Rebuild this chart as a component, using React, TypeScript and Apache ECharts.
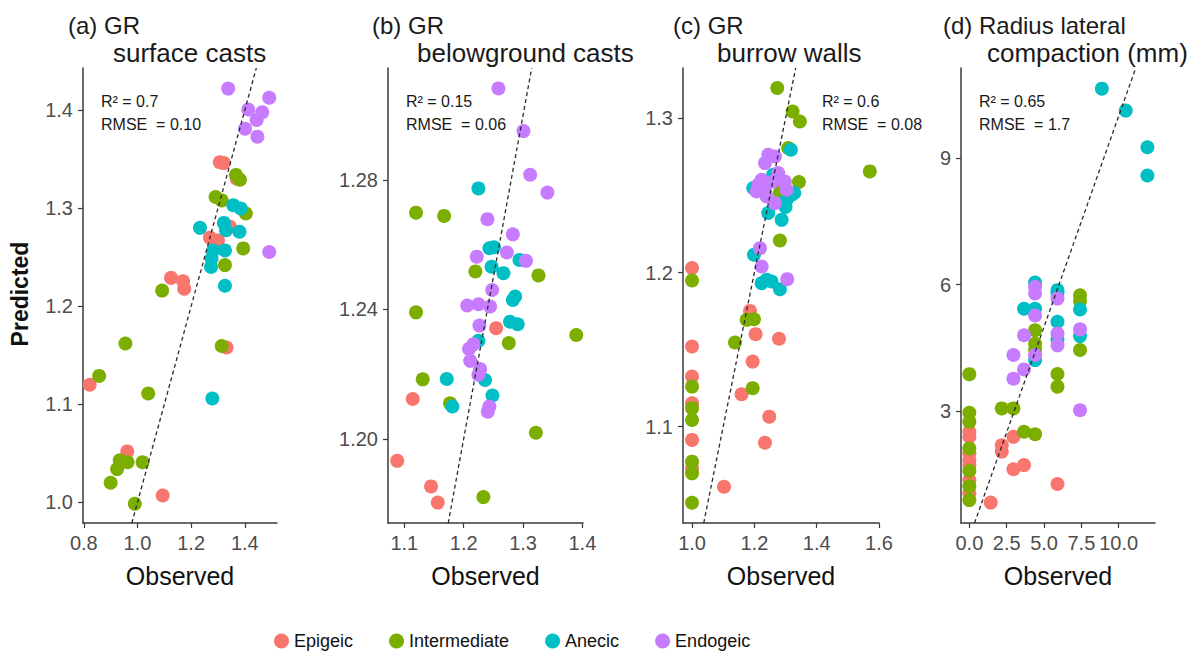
import React, { useEffect, useRef } from "react";
import * as echarts from "echarts";

const groups = ["Epigeic", "Intermediate", "Anecic", "Endogeic"];
const groupColors = ["#F8766D", "#7CAE00", "#00BFC4", "#C77CFF"];

// (a) GR surface casts  [observed, predicted]
const aEpigeic = [[1.307, 1.347], [1.322, 1.346], [1.37, 1.33], [1.27, 1.27], [1.3, 1.267], [1.345, 1.281], [1.125, 1.229], [1.17, 1.2255], [1.174, 1.218], [0.822, 1.12], [1.332, 1.158], [0.962, 1.052], [1.094, 1.007]];
const aIntermediate = [[1.367, 1.334], [1.382, 1.329], [1.291, 1.3115], [1.314, 1.308], [1.404, 1.2946], [1.394, 1.259], [1.326, 1.242], [1.092, 1.216], [0.955, 1.162], [0.857, 1.129], [1.04, 1.111], [1.314, 1.1595], [0.934, 1.043], [0.963, 1.041], [1.019, 1.041], [0.924, 1.034], [0.9, 1.02], [0.99, 0.9986]];
const aAnecic = [[1.233, 1.28], [1.357, 1.303], [1.385, 1.2997], [1.322, 1.285], [1.33, 1.2776], [1.38, 1.276], [1.282, 1.257], [1.276, 1.2487], [1.326, 1.257], [1.274, 1.24], [1.326, 1.221], [1.279, 1.106]];
const aEndogeic = [[1.338, 1.422], [1.491, 1.4126], [1.413, 1.4007], [1.465, 1.398], [1.444, 1.39], [1.401, 1.381], [1.447, 1.373], [1.491, 1.2554]];

// (b) GR belowground casts
const bEpigeic = [[1.2546, 1.2342], [1.1142, 1.2123], [1.088, 1.1932], [1.145, 1.1853], [1.1563, 1.1803]];
const bIntermediate = [[1.1197, 1.2699], [1.167, 1.2689], [1.2197, 1.2517], [1.326, 1.2505], [1.1197, 1.2391], [1.3896, 1.2321], [1.276, 1.2296], [1.131, 1.2184], [1.177, 1.211], [1.3216, 1.2019], [1.2332, 1.182]];
const bAnecic = [[1.2248, 1.2774], [1.2433, 1.2589], [1.251, 1.2592], [1.294, 1.2553], [1.247, 1.2532], [1.267, 1.2512], [1.2867, 1.244], [1.2828, 1.2429], [1.278, 1.2362], [1.291, 1.2354], [1.2248, 1.2303], [1.1715, 1.2185], [1.236, 1.2182], [1.2484, 1.2134], [1.181, 1.21]];
const bEndogeic = [[1.2585, 1.3083], [1.3007, 1.2951], [1.312, 1.2816], [1.341, 1.2761], [1.24, 1.2679], [1.2828, 1.2632], [1.2727, 1.2576], [1.222, 1.2563], [1.305, 1.255], [1.248, 1.246], [1.206, 1.2412], [1.225, 1.2416], [1.2445, 1.2409], [1.2265, 1.235], [1.2164, 1.2292], [1.209, 1.2278], [1.211, 1.2241], [1.2277, 1.2216], [1.2248, 1.2198], [1.2433, 1.21], [1.2406, 1.2084]];

// (c) GR burrow walls
const cEpigeic = [[1.0, 1.2029], [1.186, 1.1751], [1.204, 1.16], [1.279, 1.157], [1.1945, 1.1422], [1.0, 1.152], [1.0, 1.1325], [1.159, 1.121], [1.0, 1.1152], [1.2478, 1.1065], [1.0, 1.0914], [1.234, 1.0896], [1.0, 1.073], [1.1026, 1.061]];
const cIntermediate = [[1.2734, 1.3197], [1.3227, 1.3045], [1.346, 1.298], [1.3087, 1.2808], [1.5705, 1.2656], [1.343, 1.2587], [1.282, 1.252], [1.282, 1.2208], [1.0, 1.1948], [1.1753, 1.1693], [1.1987, 1.1697], [1.1378, 1.1546], [1.0, 1.126], [1.1945, 1.125], [1.0, 1.112], [1.0, 1.1043], [1.0, 1.0773], [1.0, 1.0697], [1.0, 1.0506]];
const cAnecic = [[1.317, 1.2797], [1.3195, 1.2505], [1.3035, 1.2472], [1.328, 1.2516], [1.3, 1.2425], [1.26, 1.2634], [1.1965, 1.2548], [1.2446, 1.2386], [1.2875, 1.2342], [1.1987, 1.2115], [1.2234, 1.1931], [1.2394, 1.1953], [1.2554, 1.1942], [1.282, 1.1892]];
const cEndogeic = [[1.2446, 1.2764], [1.266, 1.2753], [1.234, 1.271], [1.2126, 1.257], [1.234, 1.2558], [1.2606, 1.259], [1.298, 1.259], [1.3035, 1.2537], [1.2393, 1.2494], [1.266, 1.245], [1.207, 1.2526], [1.2234, 1.2602], [1.2766, 1.2645], [1.218, 1.2158], [1.2234, 1.2039], [1.3055, 1.1957]];

// (d) Radius lateral compaction (mm)
const dEpigeic = [[0, 2.51], [0, 2.39], [0, 2.0], [0, 1.84], [0, 1.72], [0, 1.365], [0, 1.05], [1.43, 0.83], [2.17, 2.19], [2.17, 2.04], [2.95, 2.39], [2.95, 1.62], [3.66, 1.72], [5.9, 1.27]];
const dIntermediate = [[0, 3.877], [0, 2.96], [0, 2.746], [0, 2.116], [0, 1.585], [0, 1.22], [0, 0.89], [2.17, 3.064], [2.95, 3.064], [3.66, 2.51], [4.4, 2.45], [4.4, 4.6], [4.4, 4.92], [4.4, 4.45], [5.9, 3.88], [5.9, 3.58], [7.41, 5.75], [7.41, 5.61], [7.41, 4.45]];
const dAnecic = [[8.87, 10.65], [10.47, 10.13], [11.92, 9.26], [11.92, 8.59], [4.4, 4.21], [3.66, 5.43], [4.4, 5.43], [4.4, 6.05], [5.9, 5.87], [5.9, 5.8], [5.9, 5.12], [5.9, 4.7], [7.41, 5.41], [7.41, 4.78]];
const dEndogeic = [[2.95, 4.33], [2.95, 3.77], [3.66, 3.99], [3.66, 4.8], [4.4, 4.33], [4.4, 5.27], [4.4, 5.79], [4.4, 5.95], [5.9, 5.67], [5.9, 4.84], [5.9, 4.56], [7.41, 4.94], [7.41, 3.02]];

const panelData = [
  [aEpigeic, aIntermediate, aAnecic, aEndogeic],
  [bEpigeic, bIntermediate, bAnecic, bEndogeic],
  [cEpigeic, cIntermediate, cAnecic, cEndogeic],
  [dEpigeic, dIntermediate, dAnecic, dEndogeic],
];

const titleLine1 = ["(a) GR", "(b) GR", "(c) GR", "(d) Radius lateral"];
const titleLine2 = ["surface casts", "belowground casts", "burrow walls", "compaction (mm)"];
const statR2 = ["R\u00B2 = 0.7", "R\u00B2 = 0.15", "R\u00B2 = 0.6", "R\u00B2 = 0.65"];
const statRMSE = ["RMSE  = 0.10", "RMSE  = 0.06", "RMSE  = 0.08", "RMSE  = 1.7"];

const xTicks = [[0.8, 1.0, 1.2, 1.4], [1.1, 1.2, 1.3, 1.4], [1.0, 1.2, 1.4, 1.6], [0, 2.5, 5, 7.5, 10]];
const yTicks = [[1.0, 1.1, 1.2, 1.3, 1.4], [1.2, 1.24, 1.28], [1.1, 1.2, 1.3], [3, 6, 9]];
const xDecimals = [1, 1, 1, 1];
const yDecimals = [1, 2, 1, 0];

// layout
const xRange = [[0.797, 1.52], [1.0725, 1.401], [0.971, 1.6], [-0.56, 12.43]];
const yRange = [[0.979, 1.443], [1.174, 1.3146], [1.0375, 1.3327], [0.346, 11.14]];
const gridLeft = [83, 388, 683, 961];
const gridWidth = [194, 195, 196, 194];
const gridTop = 68;
const gridHeight = 455;
const title1X = [68, 372, 673, 943];
const title2X = [113, 417, 717, 987];
const statX = [101, 406, 822, 979];

const FONT = "'Liberation Sans', Arial, Helvetica, sans-serif";
const AXIS_COLOR = "#3a3a3a";
const TICK_COLOR = "#4d4d4d";

export default function App() {
  const ref = useRef<HTMLDivElement>(null);

  useEffect(() => {
    if (!ref.current) return;
    const chart = echarts.init(ref.current, undefined, { renderer: "svg" });

    const grid: any[] = [];
    const xAxis: any[] = [];
    const yAxis: any[] = [];
    const series: any[] = [];
    const graphic: any[] = [];

    for (let p = 0; p < 4; p++) {
      grid.push({ left: gridLeft[p], top: gridTop, width: gridWidth[p], height: gridHeight, containLabel: false });
      const xd = xDecimals[p];
      const yd = yDecimals[p];
      xAxis.push({
        type: "value",
        gridIndex: p,
        min: xRange[p][0],
        max: xRange[p][1],
        name: "Observed",
        nameLocation: "middle",
        nameGap: 40,
        nameTextStyle: { fontSize: 25, color: "#111", fontFamily: FONT },
        axisLine: { show: true, onZero: false, lineStyle: { color: AXIS_COLOR, width: 1.5 } },
        axisTick: { show: true, length: 5, customValues: xTicks[p], lineStyle: { color: AXIS_COLOR, width: 1.2 } },
        axisLabel: {
          show: true,
          customValues: xTicks[p],
          formatter: (v: number) => v.toFixed(xd),
          fontSize: 20,
          color: TICK_COLOR,
          fontFamily: FONT,
          margin: 10,
          showMinLabel: true,
          showMaxLabel: true,
        },
        splitLine: { show: false },
      });
      yAxis.push({
        type: "value",
        gridIndex: p,
        min: yRange[p][0],
        max: yRange[p][1],
        axisLine: { show: true, onZero: false, lineStyle: { color: AXIS_COLOR, width: 1.5 } },
        axisTick: { show: true, length: 5, customValues: yTicks[p], lineStyle: { color: AXIS_COLOR, width: 1.2 } },
        axisLabel: {
          show: true,
          customValues: yTicks[p],
          formatter: (v: number) => v.toFixed(yd),
          fontSize: 20,
          color: TICK_COLOR,
          fontFamily: FONT,
          margin: 10,
        },
        splitLine: { show: false },
      });

      for (let g = 0; g < 4; g++) {
        series.push({
          type: "scatter",
          name: groups[g],
          xAxisIndex: p,
          yAxisIndex: p,
          data: panelData[p][g],
          symbol: "circle",
          symbolSize: 14,
          itemStyle: { color: groupColors[g], opacity: 1 },
          z: 2,
        });
      }
      const lo = Math.max(xRange[p][0], yRange[p][0]);
      const hi = Math.min(xRange[p][1], yRange[p][1]);
      series.push({
        type: "line",
        name: "1:1",
        xAxisIndex: p,
        yAxisIndex: p,
        data: [[lo, lo], [hi, hi]],
        symbol: "none",
        clip: true,
        silent: true,
        z: 5,
        lineStyle: { color: "#2a2a2a", width: 1.3, type: [4, 3] },
      });

      graphic.push({
        type: "text",
        x: title1X[p],
        y: 25,
        style: { text: titleLine1[p], fontSize: 24, fontFamily: FONT, fill: "#1a1a1a", align: "left", verticalAlign: "middle" },
      });
      graphic.push({
        type: "text",
        x: title2X[p],
        y: 53,
        style: { text: titleLine2[p], fontSize: 26, fontFamily: FONT, fill: "#1a1a1a", align: "left", verticalAlign: "middle" },
      });
      graphic.push({
        type: "text",
        x: statX[p],
        y: 101,
        style: { text: statR2[p], fontSize: 16, fontFamily: FONT, fill: "#1a1a1a", align: "left", verticalAlign: "middle" },
      });
      graphic.push({
        type: "text",
        x: statX[p],
        y: 124,
        style: { text: statRMSE[p], fontSize: 16, fontFamily: FONT, fill: "#1a1a1a", align: "left", verticalAlign: "middle" },
      });
    }

    graphic.push({
      type: "text",
      x: 20,
      y: 294,
      rotation: Math.PI / 2,
      style: { text: "Predicted", fontSize: 23, fontWeight: "bold", fontFamily: FONT, fill: "#111", align: "center", verticalAlign: "middle" },
    });

    chart.setOption({
      animation: false,
      backgroundColor: "#ffffff",
      textStyle: { fontFamily: FONT },
      grid,
      xAxis,
      yAxis,
      series,
      graphic,
      legend: {
        data: groups,
        left: 269,
        top: 627,
        icon: "circle",
        itemWidth: 15,
        itemHeight: 15,
        itemGap: 36,
        textStyle: { fontSize: 18, color: "#111", fontFamily: FONT },
      },
    });

    return () => chart.dispose();
  }, []);

  return (
    <div
      ref={ref}
      style={{ position: "fixed", left: 0, top: 0, width: 1199, height: 652, background: "#fff" }}
    />
  );
}
